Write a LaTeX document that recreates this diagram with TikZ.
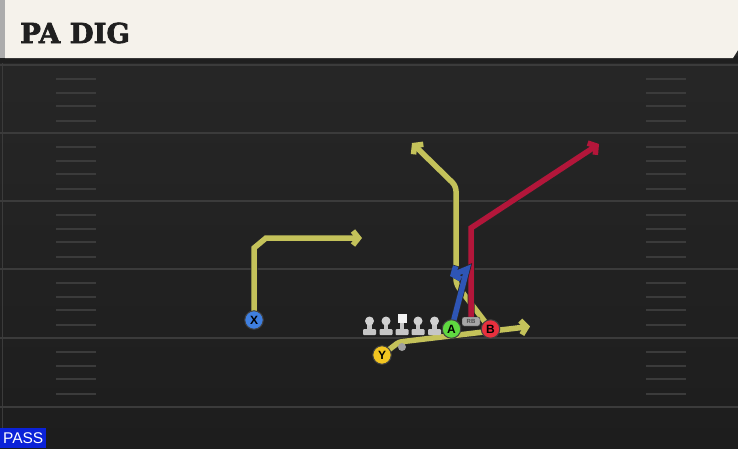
\documentclass[tikz,border=0pt]{standalone}
\usepackage{fontspec}
\setmainfont{Liberation Sans}
\newfontfamily\slabfont{DejaVu Serif Bold}[FakeBold=2.5]
\usetikzlibrary{arrows.meta}
\definecolor{turf}{HTML}{282828}
\definecolor{turfdark}{HTML}{1D1D1D}
\definecolor{chalk}{HTML}{3B3B3B}
\definecolor{paper}{HTML}{F5F2EB}
\definecolor{olive}{HTML}{C4C25A}
\definecolor{crimson}{HTML}{B3163A}
\definecolor{royal}{HTML}{2E55B5}
\definecolor{xblue}{HTML}{3F7FE0}
\definecolor{yyellow}{HTML}{F2C521}
\definecolor{agreen}{HTML}{5FD940}
\definecolor{bred}{HTML}{E8303E}
\definecolor{passblue}{HTML}{0B22D8}
\definecolor{lineman}{HTML}{C6C6C6}
\pgfdeclarelayer{field}
\pgfdeclarelayer{routes}
\pgfsetlayers{field,routes,main}
\def\headerbox{(5,0) -- (738,0) -- (738,50) -- (733,58) -- (5,58) -- cycle}

\begin{document}
\begin{tikzpicture}[x=1pt,y=-1pt,
    player/.style={circle,draw=black!75,line width=1pt,minimum size=18.5pt,inner sep=0pt,
        font=\bfseries\fontsize{12}{12}\selectfont},
    route/.style={line width=5.5pt,line join=miter,-{Straight Barb[length=5.5pt,width=14pt]},
        preaction={draw=black!85,line width=7pt}},
    hash/.style={draw=chalk,line width=1.5pt},
    yardline/.style={draw=chalk,line width=2pt}]
\useasboundingbox (0,0) rectangle (738,448);

\begin{pgfonlayer}{field}
\shade[top color=turf,bottom color=turfdark] (0,0) rectangle (738,448);
\fill[black!88] (0,56) rectangle (738,63);
\fill[gray!65] (0,0) rectangle (5,58);
\fill[paper] \headerbox;
\draw[chalk,line width=1pt] (2,63) -- (2,448);
\foreach \yl in {65,133,201,269,338,407}
    \draw[yardline] (0,\yl) -- (738,\yl);
\foreach \yl in {65,133,201,269,338}
    \foreach \d in {14,28,41,56} {
        \draw[hash] (56,\yl+\d) -- (96,\yl+\d);
        \draw[hash] (646,\yl+\d) -- (686,\yl+\d);
    }
\end{pgfonlayer}

\node[anchor=base west,inner sep=0pt,text=black!88,
    font=\slabfont\fontsize{27.5}{27.5}\selectfont] (title) at (20,43) {PA DIG};
\node[anchor=south west,fill=passblue,text=white,inner sep=0pt,minimum width=46pt,
    minimum height=20pt,font=\fontsize{15.5}{15.5}\selectfont] (mode) at (0,448) {PASS};

% the line
\foreach \lx in {369.5,386,418,434.5} {
    \fill[lineman,rounded corners=1pt] (\lx-6.5,329) rectangle (\lx+6.5,335);
    \fill[lineman] (\lx-2.3,322) rectangle (\lx+2.3,330);
    \fill[lineman!80!white] (\lx,321) circle (4.5);
}
\fill[lineman,rounded corners=1pt] (395.5,329) rectangle (408.5,335);
\fill[lineman] (399.7,321) rectangle (404.3,330);
\fill[white!95!black] (397.5,313.5) rectangle (406.5,322.5);

\node[player,fill=xblue] (X) at (254,320) {X};
\node[player,fill=yyellow] (Y) at (382,355) {Y};
\node[player,fill=agreen] (A) at (451.5,329) {A};
\node[player,fill=bred] (B) at (490.5,329) {B};
\node[draw=black!80,fill=gray!70,rounded corners=2pt,minimum width=18pt,minimum height=9pt,
    inner sep=0pt,text=black!70,font=\bfseries\fontsize{6}{6}\selectfont] (RB) at (471,321.5) {RB};
\node[circle,fill=gray!75,minimum size=8pt,inner sep=0pt] (ball) at (402,347) {};

\coordinate (xend) at (362,238);
\coordinate (yend) at (530,326.5);
\coordinate (bend) at (412,143);
\coordinate (rbend) at (599,144);
\coordinate (aend) at (450,276);

\begin{pgfonlayer}{routes}
\draw[route,olive] (X.center) -- (254,248) -- (266,238) -- (xend);
\draw[route,olive,rounded corners=3pt] (Y.center) -- (399,342) -- (yend);
\draw[route,olive,rounded corners=5pt] (B.center) -- (456,284) -- (456,186) -- (bend);
\draw[route,crimson] (RB.center) -- (471,228) -- (rbend);
\draw[route,royal] (A.center) -- (467,269) -- (aend);
\end{pgfonlayer}
\end{tikzpicture}
\end{document}
